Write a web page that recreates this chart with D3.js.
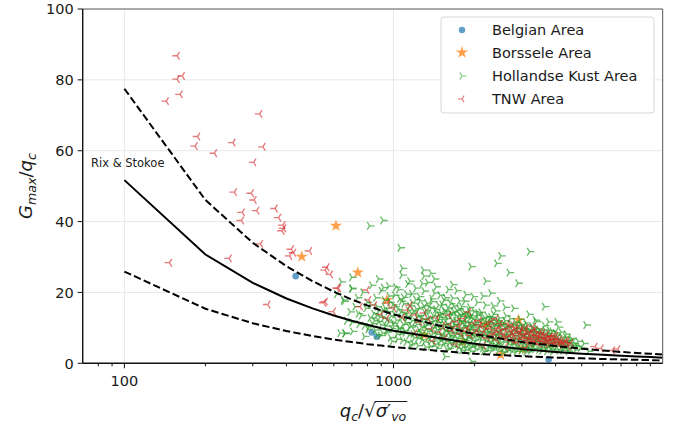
<!DOCTYPE html>
<html>
<head>
<meta charset="utf-8">
<script src="https://cdn.jsdelivr.net/npm/d3@7"></script>
<style>
  body { margin: 0; background: #fff; }
  svg { display: block; font-family: "DejaVu Sans", sans-serif; }
</style>
</head>
<body>
<div id="chart"></div>
<script>
// ---- data ----
const xMajorTicks = [100, 1000];
const xMinorTicks = [80, 90, 200, 300, 400, 500, 600, 700, 800, 900,
                     2000, 3000, 4000, 5000, 6000, 7000, 8000, 9000];
const yTicks = [0, 20, 40, 60, 80, 100];

// Rix & Stokoe correlation, sampled at the kinks seen in the picture
const curveX     = [100, 200, 300, 400, 500, 600, 700, 800, 900, 1000, 2000, 3000, 4000, 5000, 6000, 7000, 8000, 9000, 10000];
const rixMean    = [51.7, 30.7, 22.7, 18.3, 15.5, 13.5, 12.0, 10.9, 9.9, 9.2, 5.5, 4.0, 3.2, 2.7, 2.4, 2.1, 1.9, 1.8, 1.6];
const rixUpper   = [77.5, 46.1, 34.0, 27.4, 23.2, 20.2, 18.0, 16.3, 14.9, 13.8, 8.2, 6.0, 4.9, 4.1, 3.6, 3.2, 2.9, 2.7, 2.5];
const rixLower   = [25.9, 15.4, 11.3, 9.1, 7.7, 6.7, 6.0, 5.4, 5.0, 4.6, 2.7, 2.0, 1.6, 1.4, 1.2, 1.1, 1.0, 0.9, 0.8];

const belgian = [[433, 24.6], [866, 7.5], [830, 8.7], [3770, 1.1]];

const borssele = [[611, 38.8], [456, 30.1], [737, 25.6], [945, 17.9], [2917, 12.2],
                  [2500, 2.4], [1300, 8], [1800, 6], [2200, 11], [3000, 4]];

const hollandse = [
  [815, 38.8], [913, 40.3], [1059, 32.6], [1293, 26.3], [1941, 27.3], [2507, 30.3], [2420, 28.2],
  [3203, 31.5], [2692, 25.6], [2900, 22.6], [2206, 23.2], [2302, 19.8], [3640, 16.0], [5190, 10.8],
  [1075, 24.9], [918, 21.4], [700, 24.3], [661, 8.5], [1556, 1.9], [1950, 0.5], [700, 21.2],
  [652, 17.9], [633, 8.5], [4050, 11.7], [3770, 11.7], [3360, 12.2],
  [615, 19.5], [640, 23], [655, 17.5], [670, 12], [690, 14.5], [700, 21], [705, 9], [660, 8.4],
  [720, 16], [735, 18.5], [745, 11], [760, 13.5], [770, 20], [780, 7.6], [790, 15.5], [800, 17.2],
  [810, 10.3], [820, 12.8], [830, 22], [845, 14], [855, 9.4], [860, 18.5], [870, 16], [880, 11.8],
  [890, 13], [900, 20.5], [910, 8.6], [915, 15], [925, 17.8], [935, 10.5], [945, 12.2], [955, 14.6],
  [965, 19], [975, 7.2], [985, 9.8], [995, 16.5], [1000, 11.3], [1010, 13.8], [1020, 21.5], [1030, 8.2],
  [1040, 15.2], [1050, 10], [1060, 12.6], [1070, 17.5], [1080, 6.4], [1090, 14], [1100, 9.2], [1110, 11.5],
  [1120, 19.5], [1130, 13.2], [1140, 7.8], [1150, 16.2], [1160, 10.6], [1170, 12], [1180, 5.6], [1190, 14.8],
  [1200, 9], [1210, 18], [1220, 11], [1230, 7], [1240, 13.5], [1250, 15.8], [1260, 8.5], [1270, 10.2],
  [1280, 22.5], [1290, 12.4], [1300, 6], [1310, 14.2], [1320, 9.6], [1330, 17], [1340, 11.2], [1350, 7.4],
  [1360, 13], [1370, 4.8], [1380, 15.5], [1390, 10], [1400, 8.4], [1410, 12], [1420, 19.8], [1430, 6.6],
  [1440, 14.3], [1450, 9.5], [1460, 11.5], [1470, 16.4], [1480, 5.2], [1490, 13], [1500, 8], [1510, 10.8],
  [1520, 7], [1530, 12.5], [1540, 15], [1550, 9.2], [1560, 18.5], [1570, 6.2], [1580, 11.2], [1590, 13.8],
  [1600, 8.6], [1610, 4.2], [1620, 10.4], [1630, 16.8], [1640, 7.4], [1650, 12.2], [1660, 9.8], [1670, 14.6],
  [1680, 6], [1690, 11], [1700, 8.2], [1710, 13.4], [1720, 20.5], [1730, 5.4], [1740, 10], [1750, 15.4],
  [1760, 7.8], [1770, 12], [1780, 9], [1790, 3.6], [1800, 11.4], [1810, 14], [1820, 6.8], [1830, 8.8],
  [1840, 17.5], [1850, 10.4], [1860, 12.8], [1870, 5.8], [1880, 9.4], [1890, 7.2], [1900, 13.6], [1910, 11],
  [1920, 15.8], [1930, 4.6], [1940, 8.4], [1950, 10.2], [1960, 6.4], [1970, 12.4], [1980, 18.8], [1990, 9],
  [2000, 7.6], [2020, 11.6], [2040, 5.2], [2060, 14.2], [2080, 8.2], [2100, 10.4], [2120, 6.6], [2140, 12.6],
  [2160, 3.4], [2180, 9.6], [2200, 16.4], [2220, 7.2], [2240, 11], [2260, 8.6], [2280, 5.6], [2300, 13],
  [2320, 9.8], [2340, 6.8], [2360, 10.8], [2380, 4.4], [2400, 14.8], [2420, 8], [2440, 12], [2460, 6],
  [2480, 9.4], [2500, 11.6], [2530, 7.4], [2560, 3.2], [2590, 10], [2620, 13.4], [2650, 8.2], [2680, 5.4],
  [2710, 11.2], [2740, 7], [2770, 9.2], [2800, 15.5], [2830, 6.2], [2860, 4.6], [2890, 10.6], [2920, 8.4],
  [2950, 12.4], [2980, 5.8], [3010, 7.6], [3040, 9.8], [3070, 3.8], [3100, 11.4], [3130, 6.8], [3160, 8.8],
  [3190, 13.8], [3220, 5], [3250, 7.4], [3280, 10.2], [3310, 4.2], [3340, 8.4], [3370, 6.2], [3400, 11.8],
  [3440, 7.2], [3480, 9.4], [3520, 5.4], [3560, 3.6], [3600, 8], [3640, 10.6], [3680, 6.4], [3720, 4.8],
  [3760, 7.8], [3800, 9.2], [3850, 5.6], [3900, 3.4], [3950, 6.8], [4000, 8.6], [4050, 4.8], [4100, 10.2],
  [4150, 6], [4200, 7.4], [4260, 3.6], [4320, 5.2], [4380, 8.2], [4440, 6.4], [4500, 4.2], [4580, 7],
  [4660, 5], [4750, 3.8], [4850, 6.2], [4950, 4.4], [5100, 5.6], [5300, 3.4],
  [920, 12.8], [940, 9.2], [960, 11.6], [980, 13.4], [1005, 10.5], [1025, 12.2], [1045, 9.8], [1065, 14.4],
  [1085, 11], [1105, 8.6], [1125, 12.8], [1145, 10.2], [1165, 14], [1185, 8.2], [1205, 11.8], [1225, 13.2],
  [1245, 9.4], [1265, 12.6], [1285, 8], [1305, 10.8], [1325, 14.8], [1345, 9], [1365, 11.8], [1385, 7.6],
  [1405, 13.4], [1425, 10.4], [1445, 8.2], [1465, 12.4], [1485, 9.8], [1505, 14], [1525, 7.6], [1545, 11],
  [1565, 9], [1585, 12.6], [1605, 10.2], [1625, 7.8], [1645, 13.6], [1665, 8.6], [1685, 10.8], [1705, 12],
  [1725, 7], [1745, 9.4], [1765, 11.8], [1785, 13.2], [1805, 8.4], [1825, 10.6], [1845, 6.4], [1865, 11.6],
  [1885, 9.6], [1905, 7.8], [1925, 12.8], [1945, 10.6], [1965, 8], [1985, 11], [2010, 9.2], [2030, 6.6],
  [2050, 10.4], [2070, 12.4], [2090, 7.4], [2110, 9], [2130, 11.2], [2150, 7.8], [2170, 13], [2190, 8.8],
  [2210, 6.2], [2230, 10.4], [2250, 9], [2270, 7], [2290, 11.4], [2310, 8], [2330, 12.2], [2350, 6.6],
  [2370, 9.2], [2390, 10.6], [2410, 7.4], [2430, 5.6], [2450, 8.6], [2470, 10.8], [2490, 7], [2520, 9.6],
  [2550, 8], [2580, 6], [2610, 10.4], [2640, 7.4], [2670, 9], [2700, 6.4], [2730, 8.4], [2760, 5.6],
  [2790, 7.8], [2820, 9.8], [2850, 7], [2880, 8.8], [2910, 6], [2940, 7.8], [2970, 9.4], [3000, 6.4],
  [3030, 8.2], [3060, 5.4], [3090, 7.4], [3120, 9], [3150, 6], [3180, 7.8], [3210, 5.6], [3240, 8.8],
  [3270, 6.6], [3300, 5.2], [3330, 7.2], [3360, 9], [3390, 5.8], [3420, 6.8], [3460, 8.2], [3500, 6],
  [3540, 7.2], [3580, 5], [3620, 6.6], [3660, 7.8], [3700, 5.6], [3740, 6.4], [3780, 4.8], [3820, 6.6],
  [3870, 7.6], [3920, 5], [3970, 5.8], [4020, 7], [4080, 5.4], [4140, 6.6], [4220, 4.8], [4300, 6.2],
  [4400, 5], [4480, 5.8], [4620, 4.6], [700, 11.5], [740, 14], [780, 10.6], [820, 16.5], [850, 12],
  [880, 14.8], [900, 10.8], [870, 8],
  [805, 9.6], [835, 11.2], [865, 13.4], [895, 7.8], [930, 15.6], [950, 8.8], [970, 17.2], [990, 6.2],
  [1015, 16], [1035, 6.8], [1055, 18.2], [1075, 8.8], [1095, 16.8], [1115, 6], [1135, 15], [1155, 5.2],
  [1175, 17], [1195, 7.2], [1215, 15.4], [1235, 5], [1255, 17.6], [1275, 6.6], [1295, 16.2], [1315, 4.6],
  [1335, 12.8], [1355, 15.8], [1375, 6.2], [1395, 17.4], [1415, 5.4], [1435, 15.2], [1455, 4.2], [1475, 13.8],
  [1495, 6.4], [1515, 16.6], [1535, 5.6], [1555, 14.6], [1575, 4], [1595, 15.6], [1615, 5.8], [1635, 14.2],
  [1655, 4.8], [1675, 16.2], [1695, 6.2], [1715, 15], [1735, 4.2], [1755, 13.8], [1775, 5.6], [1795, 16],
  [1815, 4.6], [1835, 14.4], [1855, 3.8], [1875, 13.2], [1895, 5.2], [1915, 14.8], [1935, 3.4], [1955, 13.4],
  [1975, 5], [1995, 14.6], [2025, 4], [2055, 13.6], [2085, 4.6], [2115, 14.4], [2145, 4.2], [2175, 11.8],
  [2205, 3.6], [2235, 13.2], [2265, 4.4], [2295, 12.2], [2325, 3.8], [2355, 13.8], [2385, 5.2], [2415, 11.4],
  [2445, 3.4], [2475, 12.8], [2505, 4.8], [2535, 11], [2565, 4.2], [2595, 12], [2625, 3.6], [2655, 10.4],
  [2685, 4], [2715, 12.6], [2745, 3.2], [2775, 10.8], [2805, 4.2], [2835, 11.6], [2865, 3.4], [2895, 9.8],
  [2925, 4.4], [2955, 11], [2985, 3.6], [3015, 10.4], [3045, 4.6], [3075, 9.6], [3105, 3.2], [3135, 10.8],
  [3165, 4.2], [3195, 9.2], [3230, 3.6], [3290, 9.6], [3350, 4], [3410, 9.8], [3470, 3.8], [3530, 8.8],
  [3590, 4.4], [3650, 9.4], [3710, 3.4], [3770, 8.4], [3830, 4], [3890, 9], [3960, 3.8], [4040, 8],
  [4120, 3.6], [4200, 8.8], [4280, 4.2], [4360, 7.4], [4460, 3.4], [4540, 6.6], [4700, 5.6], [4800, 4.8],
  [1010, 19.2], [1045, 20.8], [1090, 18.6], [1130, 22.4], [1170, 19.6], [1210, 21.2], [1250, 18.8], [1300, 20.4],
  [1340, 22.8], [1390, 18.2], [1440, 21.6], [1490, 19.2], [1540, 17.8], [1600, 20.8], [1660, 18.4], [1760, 17.6],
  [1860, 19.4], [1300, 24.6], [1420, 23.8], [1150, 23.2], [2050, 17.2], [2150, 19], [2350, 16.2], [2600, 15.8],
  [960, 21.8], [880, 23.8], [1080, 26.8], [1380, 25.4], [1660, 22.2], [2480, 17.6]
];

const tnw = [
  [157, 86.8], [157, 80.2], [164, 81.1], [161, 75.9], [143, 74.0], [318, 70.4], [187, 64.0], [183, 61.3],
  [253, 62.3], [327, 61.1], [216, 59.3], [302, 56.7], [256, 48.3], [296, 48.0], [303, 46.1], [274, 42.6],
  [310, 43.1], [272, 40.3], [363, 43.7], [374, 41.1], [388, 39.0], [385, 37.4], [320, 33.7], [245, 29.6],
  [147, 28.4], [417, 32.2], [425, 31.2], [411, 30.3], [487, 31.7], [557, 26.3], [582, 25.1], [565, 27.1],
  [341, 16.6], [550, 17.1], [597, 14.6], [616, 21.2], [390, 38.1], [557, 17.4], [796, 20.7], [751, 16.0],
  [808, 17.9], [945, 12.7], [1122, 15.0], [1204, 13.6], [624, 21.2],
  [1000, 15.6], [1080, 13], [1150, 16.4], [1250, 11.6], [1300, 14.2], [1380, 9.8], [1450, 12.8], [1520, 10.6],
  [1600, 13.6], [1650, 9.2], [1720, 11.8], [1780, 8.4], [1820, 12.6], [1880, 10], [1930, 7.8], [1980, 11.4],
  [2040, 9.4], [2080, 12], [2120, 8], [2180, 10.4], [2230, 7.2], [2280, 9.8], [2320, 11.8], [2370, 8.4],
  [2420, 6.6], [2460, 10], [2500, 8.8], [2550, 7.4], [2600, 9.6], [2650, 11.2], [2700, 7.6], [2750, 8.8],
  [2800, 6.4], [2850, 10.2], [2900, 7.8], [2950, 9], [3000, 6.8], [3060, 8.2], [3100, 10], [3150, 7.2],
  [3200, 5.8], [3250, 8.6], [3300, 7], [3350, 9.4], [3400, 6], [3450, 7.8], [3500, 8.8], [3550, 6.4],
  [3600, 7.4], [3650, 5.4], [3700, 8.2], [3760, 6.6], [3820, 7.6], [3880, 5.6], [3940, 6.8], [4000, 7.8],
  [4080, 5.8], [4150, 6.8], [4250, 5.4], [4350, 6.4], [4450, 4.8], [4550, 5.8], [1400, 6.4], [1700, 5.4],
  [2150, 5], [2600, 4.6], [3100, 4.4], [1900, 14.5], [2400, 12.6], [2750, 10.8], [3300, 10.4], [1200, 8.5],
  [1550, 7.2], [5600, 4.7], [5900, 4.2], [6800, 4], [6500, 3.6], [900, 13.8], [950, 17], [850, 16.4],
  [2010, 8.6], [2090, 10.8], [2170, 9], [2250, 11], [2330, 7.8], [2410, 9.4], [2490, 11.2], [2560, 8.2],
  [2630, 7], [2680, 9.8], [2730, 6.6], [2780, 8], [2830, 9.4], [2880, 6], [2930, 8.6], [2980, 10],
  [3030, 7.4], [3080, 9.2], [3130, 6.4], [3180, 8.2], [3230, 7], [3280, 9], [3330, 6.2], [3380, 8],
  [3430, 7], [3480, 5.4], [3530, 7.6], [3580, 8.6], [3630, 6.2], [3680, 7], [3730, 5.8], [3790, 7.2],
  [3850, 6.4], [3910, 7.6], [3970, 5.6], [4040, 6.8], [4120, 5.2], [4200, 6.2], [4300, 5.6], [4400, 6],
  [1850, 9], [1750, 10.4], [1620, 11], [1480, 8.8], [1350, 12.4]
];

const legendLabels = ["Belgian Area", "Borssele Area", "Hollandse Kust Area", "TNW Area"];
const seriesColors = ["#1f77b4", "#ff7f0e", "#2ca02c", "#d62728"];

// ---- layout ----
const W = 678, H = 430;
const plot = { left: 82.7, right: 662.7, top: 9, bottom: 363.3 };

const svg = d3.select("#chart").append("svg")
    .attr("width", W).attr("height", H);

const x = d3.scaleLog().domain([70, 10000]).range([plot.left, plot.right]);
const y = d3.scaleLinear().domain([0, 100]).range([plot.bottom, plot.top]);

svg.append("defs").append("clipPath").attr("id", "clip")
  .append("rect")
    .attr("x", plot.left).attr("y", plot.top)
    .attr("width", plot.right - plot.left).attr("height", plot.bottom - plot.top);

// grid
const grid = svg.append("g").attr("stroke", "#e8e8e8").attr("stroke-width", 1);
xMajorTicks.forEach(t => {
    grid.append("line")
        .attr("x1", x(t)).attr("x2", x(t))
        .attr("y1", plot.top).attr("y2", plot.bottom);
});
yTicks.slice(1, -1).forEach(t => {
    grid.append("line")
        .attr("x1", plot.left).attr("x2", plot.right)
        .attr("y1", y(t)).attr("y2", y(t));
});

// ---- markers ----
const marks = svg.append("g").attr("clip-path", "url(#clip)");

function triPath(r, dir) {
    // dir = 1 -> tri_right (stem right), -1 -> tri_left (stem left)
    const ax = -0.5 * r * dir, ay = 0.8 * r;
    return `M0,0L${r * dir},0M0,0L${ax},${-ay}M0,0L${ax},${ay}`;
}

const starPath = d3.symbol().type(d3.symbolStar).size(46)();
const triR = 4.8, triW = 1.35;

marks.selectAll(".belgian").data(belgian).enter()
  .append("circle")
    .attr("class", "belgian")
    .attr("cx", d => x(d[0])).attr("cy", d => y(d[1]))
    .attr("r", 3.3)
    .attr("fill", seriesColors[0]).attr("fill-opacity", 0.7);

marks.selectAll(".borssele").data(borssele).enter()
  .append("path")
    .attr("class", "borssele")
    .attr("d", starPath)
    .attr("transform", d => `translate(${x(d[0])},${y(d[1])})`)
    .attr("fill", seriesColors[1]).attr("fill-opacity", 0.75);

marks.selectAll(".hollandse").data(hollandse).enter()
  .append("path")
    .attr("class", "hollandse")
    .attr("d", triPath(triR, 1))
    .attr("transform", d => `translate(${x(d[0])},${y(d[1])})`)
    .attr("fill", "none")
    .attr("stroke", seriesColors[2]).attr("stroke-opacity", 0.7)
    .attr("stroke-width", triW);

marks.selectAll(".tnw").data(tnw).enter()
  .append("path")
    .attr("class", "tnw")
    .attr("d", triPath(triR, -1))
    .attr("transform", d => `translate(${x(d[0])},${y(d[1])})`)
    .attr("fill", "none")
    .attr("stroke", seriesColors[3]).attr("stroke-opacity", 0.62)
    .attr("stroke-width", triW);

// ---- Rix & Stokoe lines ----
const line = d3.line().x(d => x(d[0])).y(d => y(d[1]));
const curves = [
    { vals: rixUpper, dash: "7.4,3.2" },
    { vals: rixMean,  dash: null },
    { vals: rixLower, dash: "7.4,3.2" }
];
curves.forEach(c => {
    marks.append("path")
        .attr("d", line(curveX.map((v, i) => [v, c.vals[i]])))
        .attr("fill", "none")
        .attr("stroke", "#000")
        .attr("stroke-width", 2)
        .attr("stroke-dasharray", c.dash);
});

svg.append("text")
    .attr("x", 91).attr("y", 167)
    .attr("font-size", 11.5)
    .attr("fill", "#222")
    .text("Rix & Stokoe");

// ---- spines ----
svg.append("line")
    .attr("x1", plot.left).attr("x2", plot.right)
    .attr("y1", plot.top).attr("y2", plot.top)
    .attr("stroke", "#555").attr("stroke-width", 1);
svg.append("line")
    .attr("x1", plot.right).attr("x2", plot.right)
    .attr("y1", plot.top).attr("y2", plot.bottom)
    .attr("stroke", "#555").attr("stroke-width", 1);
svg.append("line")
    .attr("x1", plot.left).attr("x2", plot.left)
    .attr("y1", plot.top).attr("y2", plot.bottom)
    .attr("stroke", "#111").attr("stroke-width", 1.4);
svg.append("line")
    .attr("x1", plot.left).attr("x2", plot.right)
    .attr("y1", plot.bottom).attr("y2", plot.bottom)
    .attr("stroke", "#111").attr("stroke-width", 1.4);

// ---- ticks ----
const ticks = svg.append("g").attr("stroke", "#111").attr("stroke-width", 1);
xMajorTicks.forEach(t => {
    ticks.append("line")
        .attr("x1", x(t)).attr("x2", x(t))
        .attr("y1", plot.bottom).attr("y2", plot.bottom + 5);
});
xMinorTicks.forEach(t => {
    ticks.append("line")
        .attr("x1", x(t)).attr("x2", x(t))
        .attr("y1", plot.bottom).attr("y2", plot.bottom + 3);
});
yTicks.forEach(t => {
    ticks.append("line")
        .attr("x1", plot.left - 5).attr("x2", plot.left)
        .attr("y1", y(t)).attr("y2", y(t));
});

svg.selectAll(".xlab").data(xMajorTicks).enter()
  .append("text")
    .attr("class", "xlab")
    .attr("x", d => x(d)).attr("y", plot.bottom + 23)
    .attr("text-anchor", "middle")
    .attr("font-size", 14.5).attr("fill", "#1a1a1a")
    .text(d => d);

svg.selectAll(".ylab").data(yTicks).enter()
  .append("text")
    .attr("class", "ylab")
    .attr("x", plot.left - 9).attr("y", d => y(d))
    .attr("dy", "0.36em")
    .attr("text-anchor", "end")
    .attr("font-size", 14.5).attr("fill", "#1a1a1a")
    .text(d => d);

// ---- axis titles (mathtext look-alike) ----
function mathText(g, pieces, fs) {
    // pieces: {t, it, sub, line}
    let cx = 0;
    const lineSpan = [];
    pieces.forEach(p => {
        const size = p.sub ? fs * 0.7 : fs;
        const el = g.append("text")
            .attr("x", cx)
            .attr("y", p.sub ? fs * 0.22 : 0)
            .attr("font-size", size)
            .attr("font-style", p.it ? "italic" : "normal")
            .attr("fill", "#1a1a1a")
            .text(p.t);
        const w = el.node().getComputedTextLength();
        if (p.line) lineSpan.push([cx, cx + w]);
        cx += w + (p.gap || 0);
    });
    if (lineSpan.length) {
        g.append("line")
            .attr("x1", lineSpan[0][0] - 1).attr("x2", lineSpan[lineSpan.length - 1][1] + 1)
            .attr("y1", -fs * 0.86).attr("y2", -fs * 0.86)
            .attr("stroke", "#1a1a1a").attr("stroke-width", 1);
    }
    return cx;
}

const xt = svg.append("g");
const xw = mathText(xt, [
    { t: "q", it: true }, { t: "c", it: true, sub: true }, { t: "/" },
    { t: "√" }, { t: "σ", it: true, line: true }, { t: "′", line: true },
    { t: "vo", it: true, sub: true, line: true }
], 18);
xt.attr("transform", `translate(${373 - xw / 2},${417})`);

const yt = svg.append("g");
const yw = mathText(yt, [
    { t: "G", it: true }, { t: "max", it: true, sub: true }, { t: "/" },
    { t: "q", it: true }, { t: "c", it: true, sub: true }
], 18);
yt.attr("transform", `translate(32,${186 + yw / 2}) rotate(-90)`);

// ---- legend ----
const lg = svg.append("g");
lg.append("rect")
    .attr("x", 441).attr("y", 17)
    .attr("width", 213).attr("height", 96)
    .attr("rx", 3)
    .attr("fill", "#fff").attr("fill-opacity", 0.85)
    .attr("stroke", "#d6d6d6").attr("stroke-width", 1);

const rowY = [30, 52.5, 76, 99];
legendLabels.forEach((lab, i) => {
    const cy = rowY[i];
    const m = lg.append("g").attr("transform", `translate(462,${cy})`);
    if (i === 0) {
        m.append("circle").attr("r", 3.2)
            .attr("fill", seriesColors[0]).attr("fill-opacity", 0.7);
    } else if (i === 1) {
        m.append("path").attr("d", starPath)
            .attr("fill", seriesColors[1]).attr("fill-opacity", 0.75);
    } else {
        m.append("path").attr("d", triPath(4.3, i === 2 ? 1 : -1))
            .attr("fill", "none")
            .attr("stroke", seriesColors[i]).attr("stroke-opacity", 0.65)
            .attr("stroke-width", 1.1);
    }
    lg.append("text")
        .attr("x", 492).attr("y", cy)
        .attr("dy", "0.36em")
        .attr("font-size", 14.5).attr("fill", "#1a1a1a")
        .text(lab);
});
</script>
</body>
</html>
